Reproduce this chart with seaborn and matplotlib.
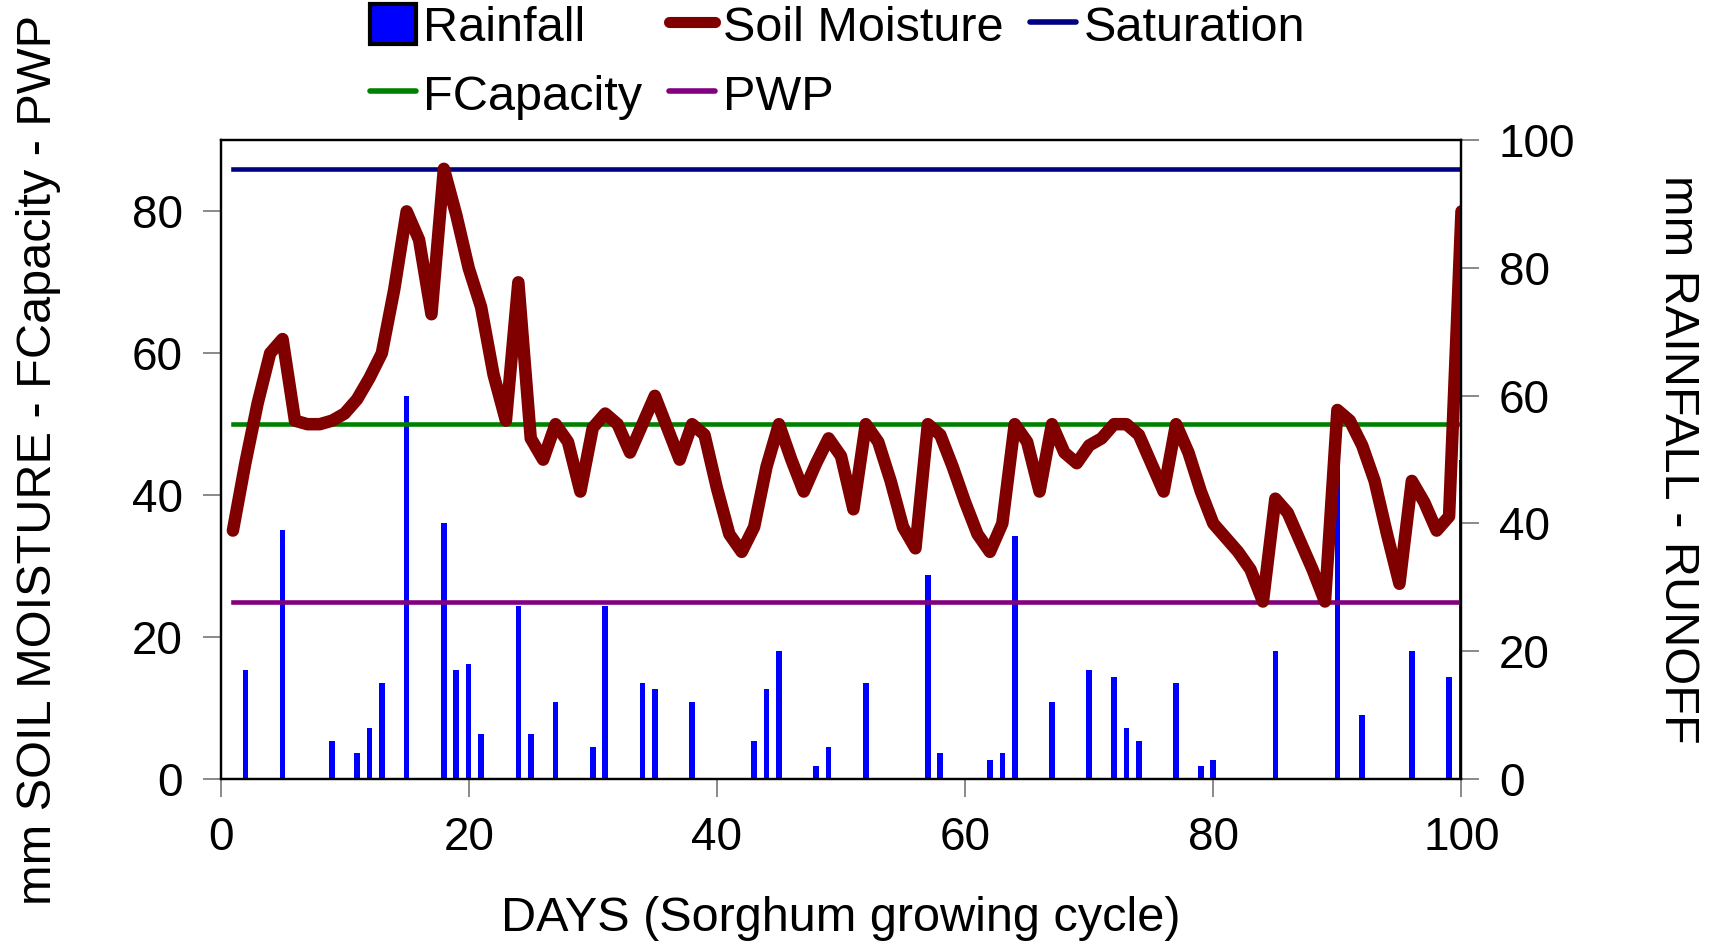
import matplotlib
matplotlib.use('Agg')
import matplotlib.pyplot as plt
import seaborn as sns
from matplotlib.patches import Patch
from matplotlib.lines import Line2D

# daily soil moisture (mm), days 1..100
days = list(range(1, 101))
soil_moisture = [35, 44.5, 53, 60, 62, 50.5, 50, 50, 50.5, 51.5,
                 53.5, 56.5, 60, 69, 80, 76, 65.5, 86, 79.5, 72,
                 66.5, 57, 50.5, 70, 48, 45, 50, 47.5, 40.5, 49.5,
                 51.5, 50, 46, 50, 54, 49.5, 45, 50, 48.5, 41,
                 34.5, 32, 35.5, 44, 50, 45, 40.5, 44.5, 48, 45.5,
                 38, 50, 47.5, 42, 35.5, 32.5, 50, 48.5, 44, 39,
                 34.5, 32, 36, 50, 47.5, 40.5, 50, 46, 44.5, 47,
                 48, 50, 50, 48.5, 44.5, 40.5, 50, 46, 40.5, 36,
                 34, 32, 29.5, 25, 39.5, 37.5, 33.5, 29.5, 25, 52,
                 50.5, 47, 42, 34.5, 27.5, 42, 39, 35, 37, 80]

# rainfall events (mm)
rain_days = [2, 5, 9, 11, 12, 13, 15, 18, 19, 20, 21, 24, 25, 27, 30, 31, 34, 35, 38, 43,
             44, 45, 48, 49, 52, 57, 58, 62, 63, 64, 67, 70, 72, 73, 74, 77, 79, 80, 85, 90,
             92, 96, 99, 100]
rain_mm = [17, 39, 6, 4, 8, 15, 60, 40, 17, 18, 7, 27, 7, 12, 5, 27, 15, 14, 12, 6,
           14, 20, 2, 5, 15, 32, 4, 3, 4, 38, 12, 17, 16, 8, 6, 15, 2, 3, 20, 52,
           10, 20, 16, 50]

saturation = 86
fcapacity = 50
pwp = 25

x_ticks = [0, 20, 40, 60, 80, 100]
left_ticks = [0, 20, 40, 60, 80]
right_ticks = [0, 20, 40, 60, 80, 100]

plt.rcParams['font.family'] = ['Liberation Sans', 'DejaVu Sans']

c_rain = '#0000FF'
c_soil = '#800000'
c_sat = '#000080'
c_fc = '#008000'
c_pwp = '#800080'

fig = plt.figure(figsize=(17.2, 9.49), dpi=100)
ax = fig.add_axes([0.1282, 0.1793, 0.7215, 0.6727])
ax2 = ax.twinx()

# bars on the right axis, lines on top
sns.barplot(x=rain_days, y=rain_mm, native_scale=True, width=0.45, color=c_rain,
            saturation=1, errorbar=None, ax=ax2, linewidth=0)
ax.set_zorder(ax2.get_zorder() + 1)
ax.patch.set_visible(False)
ax2.set_facecolor('#FFFF80')

sns.lineplot(x=days, y=[saturation] * len(days), color=c_sat, lw=3.3, ax=ax)
sns.lineplot(x=days, y=[fcapacity] * len(days), color=c_fc, lw=3.3, ax=ax)
sns.lineplot(x=days, y=[pwp] * len(days), color=c_pwp, lw=3.3, ax=ax)
sns.lineplot(x=days, y=soil_moisture, color=c_soil, lw=9, ax=ax,
             solid_capstyle='round', solid_joinstyle='round')

ax.set_xlim(0, 100)
ax.set_ylim(0, 90)
ax2.set_ylim(0, 100)
ax.set_xticks(x_ticks)
ax.set_yticks(left_ticks)
ax2.set_yticks(right_ticks)

for a in (ax, ax2):
    a.tick_params(axis='both', length=13, width=1.3, color='#808080',
                  labelsize=33, pad=14)
    for s in a.spines.values():
        s.set_color('black')
        s.set_linewidth(1.6)

ax.set_xlabel('DAYS (Sorghum growing cycle)', fontsize=35, va='center')
ax.xaxis.set_label_coords(0.5, -0.219)
ax.set_ylabel('mm SOIL MOISTURE - FCapacity - PWP', fontsize=35, va='center')
ax.yaxis.set_label_coords(-0.147, 0.5)
ax2.set_ylabel('mm RAINFALL - RUNOFF', fontsize=35, rotation=-90, va='center')
ax2.yaxis.set_label_coords(1.174, 0.5)

handles = [
    Patch(facecolor=c_rain, edgecolor='black', linewidth=3),
    Line2D([], [], color=c_fc, lw=4, solid_capstyle='round'),
    Line2D([], [], color=c_soil, lw=8, solid_capstyle='round'),
    Line2D([], [], color=c_pwp, lw=4, solid_capstyle='round'),
    Line2D([], [], color=c_sat, lw=4, solid_capstyle='round'),
]
labels = ['Rainfall', 'FCapacity', 'Soil Moisture', 'PWP', 'Saturation']
fig.legend(handles, labels, loc='upper left', bbox_to_anchor=(0.215, 0.996),
           ncol=3, frameon=False, fontsize=35, handlelength=0.95,
           handletextpad=0.15, columnspacing=0.55, labelspacing=0.45,
           borderpad=0, borderaxespad=0, handleheight=0.9)

fig.savefig('out.png', dpi=100)
